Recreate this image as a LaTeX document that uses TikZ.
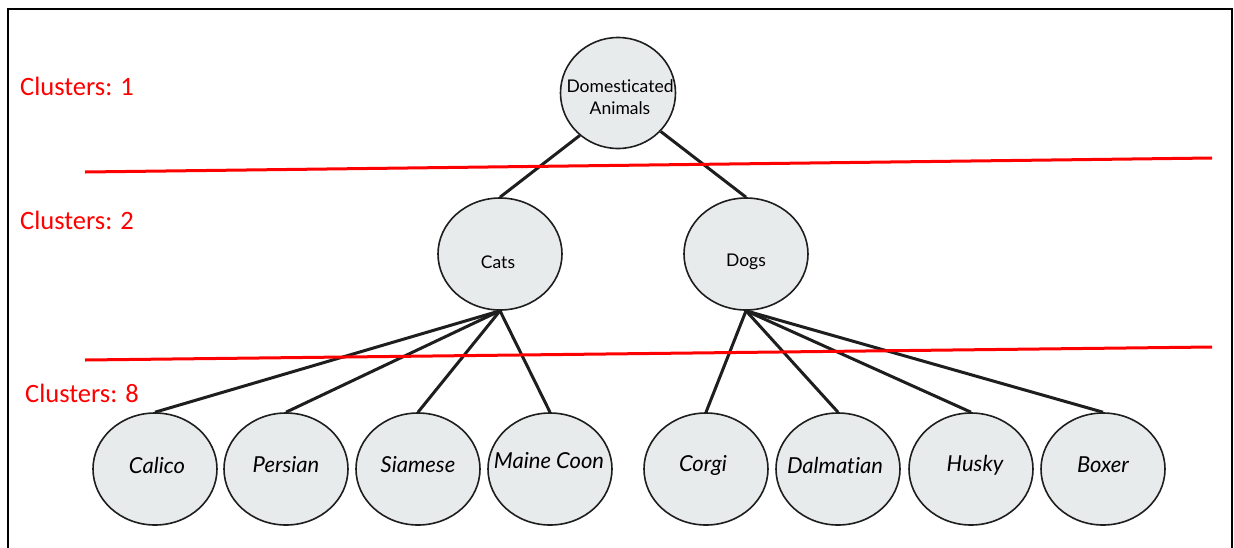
\documentclass[tikz,border=0pt]{standalone}
\usepackage{fontspec}
\setmainfont{Lato}[Ligatures=NoCommon]
\newfontfamily\labfont{Carlito}
\usetikzlibrary{shapes.geometric}
\definecolor{nodefill}{HTML}{E8EBEC}
\definecolor{edgecol}{HTML}{1E1E1E}
\begin{document}
\begin{tikzpicture}[x=1pt,y=-1pt,
 bubble/.style={ellipse, draw=edgecol, line width=1.6pt, fill=nodefill, inner sep=0pt, minimum width=124pt, minimum height=112pt},
 link/.style={draw=edgecol, line width=3pt},
 cut/.style={draw=red, line width=3pt},
 clab/.style={text=red, font=\labfont\fontsize{26.5}{30}\selectfont, anchor=west, inner sep=0pt},
 midtext/.style={font=\fontsize{17.5}{22}\selectfont, align=center, inner sep=0pt},
 leaftext/.style={font=\fontsize{22}{24}\selectfont\itshape, inner sep=0pt}]
\useasboundingbox (0,0) rectangle (1234,547);
\fill[white] (0,0) rectangle (1234,547);
\draw[line width=2pt] (8,560) -- (8,9) -- (1232,9) -- (1232,560);

% nodes
\node[bubble, minimum width=115pt, minimum height=111pt] (root) at (618,93) {};
\node[midtext] (rootT) at (620,97) {Domesticated\\Animals};
\node[bubble] (cats) at (500,254) {};
\node[midtext] (catsT) at (498,262) {Cats};
\node[bubble] (dogs) at (746,254) {};
\node[midtext] (dogsT) at (746,262) {Dogs};

\node[bubble] (calico) at (155,469) {};
\node[leaftext] (calicoT) at (157,465) {Calico};
\node[bubble] (persian) at (286,469) {};
\node[leaftext] (persianT) at (286,465) {Persian};
\node[bubble] (siamese) at (418,469) {};
\node[leaftext] (siameseT) at (418,465) {Siamese};
\node[bubble] (maine) at (550,469) {};
\node[leaftext] (maineT) at (549,461) {Maine Coon};
\node[bubble] (corgi) at (706,469) {};
\node[leaftext] (corgiT) at (703,465) {Corgi};
\node[bubble] (dalmatian) at (838,469) {};
\node[leaftext] (dalmatianT) at (835,465) {Dalmatian};
\node[bubble] (husky) at (971,469) {};
\node[leaftext] (huskyT) at (975,465) {Husky};
\node[bubble] (boxer) at (1103,469) {};
\node[leaftext] (boxerT) at (1103,465) {Boxer};

% connectors
\draw[link] (root.-132) -- (cats.north);
\draw[link] (root.-42) -- (dogs.north);
\foreach \c in {calico,persian,siamese,maine}
  \draw[link] (cats.south) -- (\c.north);
\foreach \d in {corgi,dalmatian,husky,boxer}
  \draw[link] (dogs.south) -- (\d.north);

% cluster cuts
\draw[cut] (85,172) -- (1212,158);
\draw[cut] (85,360) -- (1212,347);
\node[clab] (c1) at (20,86) {Clusters: 1};
\node[clab] (c2) at (20,220) {Clusters: 2};
\node[clab] (c8) at (25,393) {Clusters: 8};
\end{tikzpicture}
\end{document}
